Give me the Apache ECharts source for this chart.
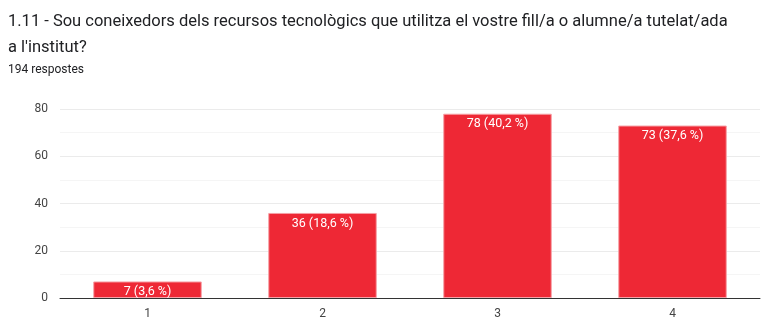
<!DOCTYPE html>
<html><head><meta charset="utf-8">
<script src="https://cdn.jsdelivr.net/npm/echarts@6/dist/echarts.min.js"></script>
<style>html,body{margin:0;padding:0;background:#fff}#c{width:776px;height:331px}</style>
</head><body><div id="c"></div>
<script>
const titleLines = ["1.11 - Sou coneixedors dels recursos tecnològics que utilitza el vostre fill/a o alumne/a tutelat/ada", "a l'institut?"];
const subtitle = "194 respostes";
const categories = ["1", "2", "3", "4"];
const values = [7, 36, 78, 73];
const percents = ["3,6", "18,6", "40,2", "37,6"];
const yTicks = [0, 20, 40, 60, 80];

const chart = echarts.init(document.getElementById('c'), null, {renderer: 'canvas'});
chart.setOption({
  animation: false,
  title: [{
    text: titleLines.join('\n'),
    left: 3, top: 4,
    textStyle: {fontFamily: 'Roboto', fontSize: 16.5, fontWeight: 'normal', color: '#202124', lineHeight: 26}
  }, {
    text: subtitle,
    left: 3, top: 59,
    textStyle: {fontFamily: 'Roboto', fontSize: 12, fontWeight: 'normal', color: '#202124'}
  }],
  grid: {left: 60, right: 16, top: 109, bottom: 33},
  xAxis: {
    type: 'category', data: categories,
    axisTick: {show: false},
    axisLine: {lineStyle: {color: '#333', width: 1}},
    axisLabel: {fontFamily: 'Roboto', fontSize: 12, color: '#444', margin: 10}
  },
  yAxis: {
    type: 'value', min: yTicks[0], max: yTicks[yTicks.length - 1], interval: 20,
    axisLabel: {fontFamily: 'Roboto', fontSize: 12, color: '#444', margin: 12},
    splitLine: {lineStyle: {color: '#ebebeb'}},
    minorTick: {show: false, splitNumber: 2},
    minorSplitLine: {show: true, lineStyle: {color: '#f5f5f5'}},
    axisLine: {show: false}
  },
  series: [{
    type: 'bar', data: values, barWidth: '62%',
    itemStyle: {color: '#ee2835', borderColor: '#f6a0a6', borderWidth: 1},
    label: {
      show: true, position: 'insideTop', distance: 4,
      fontFamily: 'Roboto', fontSize: 12.5, color: '#fff',
      formatter: p => p.value + ' (' + percents[p.dataIndex] + ' %)'
    }
  }]
});
</script></body></html>
